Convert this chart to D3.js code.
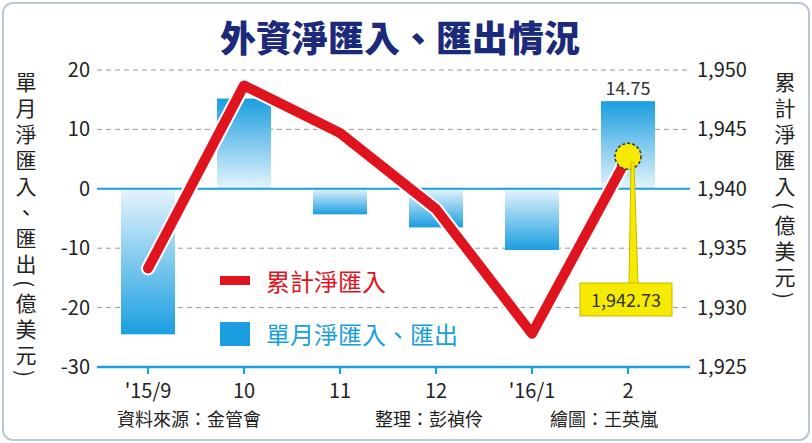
<!DOCTYPE html><html><head><meta charset="utf-8"><script src="https://cdn.jsdelivr.net/npm/d3@7"></script>
<style>body{margin:0;background:#fff}text{font-family:"Noto Sans CJK TC","Noto Sans",sans-serif}</style></head><body>
<svg id="c" width="812" height="443"></svg>
<script>
const months=["'15/9","10","11","12","'16/1","2"];
const monthly=[-24.5,15.2,-4.3,-6.5,-10.3,14.75];
const cumulative=[1933.3,1948.7,1944.7,1938.3,1927.8,1942.73];
const leftTicks=[20,10,0,-10,-20,-30];
const rightTicks=[1950,1945,1940,1935,1930,1925];
const svg=d3.select("#c");
svg.append("rect").attr("x",3).attr("y",3).attr("width",806).attr("height",437).attr("rx",10).attr("fill","#fff").attr("stroke","#b9c7d6").attr("stroke-width",2);
const x=d3.scalePoint().domain(months).range([148,628]);
const yL=d3.scaleLinear().domain([-30,20]).range([367,70]);
const yR=d3.scaleLinear().domain([1925,1950]).range([367,70]);
const defs=svg.append("defs");
const gp=defs.append("linearGradient").attr("id","gp").attr("x1",0).attr("y1",0).attr("x2",0).attr("y2",1);
gp.append("stop").attr("offset",0).attr("stop-color","#1a9ee0");gp.append("stop").attr("offset",1).attr("stop-color","#e6f4fc");
const gn=defs.append("linearGradient").attr("id","gn").attr("x1",0).attr("y1",1).attr("x2",0).attr("y2",0);
gn.append("stop").attr("offset",0).attr("stop-color","#1a9ee0");gn.append("stop").attr("offset",1).attr("stop-color","#e6f4fc");
svg.append("text").attr("x",400).attr("y",52).attr("text-anchor","middle").attr("font-size",36).attr("font-weight",900).attr("fill","#1b2a7a").text("外資淨匯入、匯出情況");
leftTicks.forEach(t=>{ if(t!==0&&t!==-30) svg.append("line").attr("x1",97).attr("x2",690).attr("y1",yL(t)).attr("y2",yL(t)).attr("stroke","#999").attr("stroke-dasharray","5,4");});
svg.selectAll(".bar").data(monthly).join("rect").attr("x",(d,i)=>x(months[i])-27).attr("width",54)
 .attr("y",d=>d>0?yL(d):yL(0)).attr("height",d=>Math.abs(yL(d)-yL(0))).attr("fill",d=>d>0?"url(#gp)":"url(#gn)");
svg.append("line").attr("x1",97).attr("x2",690).attr("y1",yL(0)).attr("y2",yL(0)).attr("stroke","#1a9ee0").attr("stroke-width",2);
svg.append("line").attr("x1",97).attr("x2",690).attr("y1",367).attr("y2",367).attr("stroke","#1a9ee0").attr("stroke-width",2.5);
months.forEach(m=>svg.append("line").attr("x1",x(m)).attr("x2",x(m)).attr("y1",367).attr("y2",374).attr("stroke","#1a9ee0").attr("stroke-width",2));
svg.selectAll(".xl").data(months).join("text").attr("x",d=>x(d)).attr("y",398).attr("text-anchor","middle").attr("font-size",20).attr("fill","#222").text(d=>d);
svg.selectAll(".yl").data(leftTicks).join("text").attr("x",90).attr("y",d=>yL(d)+7).attr("text-anchor","end").attr("font-size",20).attr("fill","#222").text(d=>d);
svg.selectAll(".yr").data(rightTicks).join("text").attr("x",697).attr("y",d=>yR(d)+7).attr("font-size",20).attr("fill","#222").text(d3.format(","));
const line=d3.line().x((d,i)=>x(months[i])).y(d=>yR(d));
svg.append("path").attr("d",line(cumulative)).attr("fill","none").attr("stroke","#fff").attr("stroke-width",14).attr("stroke-linejoin","round").attr("stroke-linecap","round");
svg.append("path").attr("d",line(cumulative)).attr("fill","none").attr("stroke","#e0141e").attr("stroke-width",10).attr("stroke-linejoin","round").attr("stroke-linecap","round");
svg.append("text").attr("x",x(months[5])).attr("y",yL(14.75)-6).attr("text-anchor","middle").attr("font-size",18).attr("fill","#333").text("14.75");
const px=x(months[5]),py=yR(cumulative[5]);
svg.append("circle").attr("cx",px).attr("cy",py).attr("r",13).attr("fill","#f5ea00").attr("stroke","#333").attr("stroke-dasharray","3,2").attr("stroke-width",1.5);
svg.append("path").attr("d",`M${px+3},${py+6}L${px+6},${py+6}L${px+10},284L${px+1},284Z`).attr("fill","#f5ea00").attr("stroke","#c8b800");
svg.append("rect").attr("x",580).attr("y",283).attr("width",92).attr("height",33).attr("fill","#f5ea00").attr("stroke","#c8b800");
svg.append("text").attr("x",626).attr("y",307).attr("text-anchor","middle").attr("font-size",18).attr("fill","#333").text("1,942.73");
svg.append("rect").attr("x",220).attr("y",276).attr("width",30).attr("height",9).attr("fill","#e0141e");
svg.append("text").attr("x",266).attr("y",291).attr("font-size",24).attr("fill","#e0141e").text("累計淨匯入");
svg.append("rect").attr("x",220).attr("y",322).attr("width",30).attr("height",24).attr("fill","#1a9ee0");
svg.append("text").attr("x",266).attr("y",344).attr("font-size",24).attr("fill","#1a9ee0").text("單月淨匯入、匯出");
svg.append("text").attr("transform","translate(26,72)").attr("writing-mode","tb").attr("font-size",21).attr("fill","#222").attr("letter-spacing",5).text("單月淨匯入、匯出(億美元)");
svg.append("text").attr("transform","translate(785,72)").attr("writing-mode","tb").attr("font-size",21).attr("fill","#222").attr("letter-spacing",5).text("累計淨匯入(億美元)");
svg.append("text").attr("x",117).attr("y",426).attr("font-size",18).attr("fill","#222").text("資料來源：金管會");
svg.append("text").attr("x",375).attr("y",426).attr("font-size",18).attr("fill","#222").text("整理：彭禎伶");
svg.append("text").attr("x",550).attr("y",426).attr("font-size",18).attr("fill","#222").text("繪圖：王英嵐");
</script></body></html>
